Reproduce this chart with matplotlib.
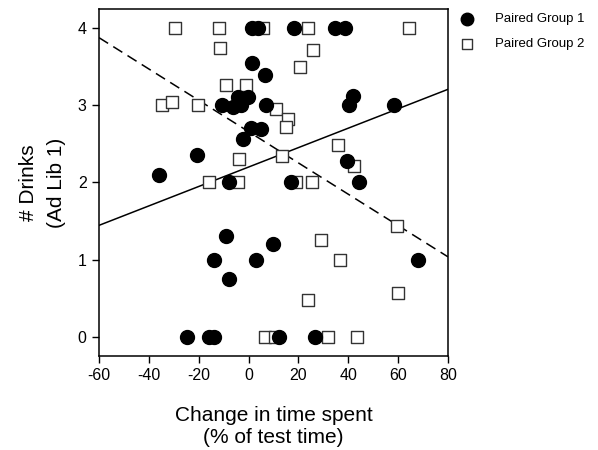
import numpy as np
import matplotlib
matplotlib.use("Agg")
import matplotlib.pyplot as plt

plt.rcParams['font.family'] = ['Liberation Sans', 'DejaVu Sans']
plt.rcParams['axes.unicode_minus'] = False

# Paired Group 1 (filled circles)
g1_x = [1.5, 3.8, 18.2, 34.7, 38.7,
        1.3, 6.5,
        -10.5, -6.4, -4.4, -0.4, -3.1, 6.9, 41.8, 40.4, 58.5,
        0.9, 4.9, -2.4, -20.5, -35.9, 39.5,
        -7.8, 17.0, 44.4,
        -9.1, 10.0, -13.8, 2.9, 67.9, -7.8,
        -24.7, -16.0, -14.0, 12.4, 26.8]
g1_y = [4.0, 4.0, 4.0, 4.0, 4.0,
        3.55, 3.4,
        3.0, 2.98, 3.11, 3.11, 3.0, 3.0, 3.12, 3.0, 3.0,
        2.71, 2.69, 2.57, 2.35, 2.1, 2.28,
        2.0, 2.0, 2.0,
        1.31, 1.2, 1.0, 1.0, 1.0, 0.75,
        0.0, 0.0, 0.0, 0.0, 0.0]

# Paired Group 2 (open squares)
g2_x = [-29.5, -11.8, 5.8, 23.7, 64.4,
        -11.4, 25.9, 20.7,
        -9.0, -1.1,
        -34.8, -30.8, -20.2,
        11.0, 15.8, 15.0,
        35.7, 13.6, -3.8, 42.4,
        -15.8, -4.4, 19.0, 25.3,
        59.7, 29.0, 36.8, 59.8, 23.7,
        6.8, 10.5, 31.8, 43.6]
g2_y = [4.0, 4.0, 4.0, 4.0, 4.0,
        3.75, 3.72, 3.5,
        3.27, 3.27,
        3.0, 3.04, 3.0,
        2.95, 2.82, 2.72,
        2.48, 2.34, 2.3, 2.22,
        2.0, 2.0, 2.0, 2.0,
        1.44, 1.26, 1.0, 0.57, 0.48,
        0.0, 0.0, 0.0, 0.0]

# regression lines (slope, intercept)
fit1 = (0.0126, 2.20)
fit2 = (-0.0203, 2.66)

x_ticks = [-60, -40, -20, 0, 20, 40, 60, 80]
y_ticks = [0, 1, 2, 3, 4]


def main():
    fig = plt.figure(figsize=(5.98, 4.5), dpi=100)
    ax = fig.add_axes([0.1656, 0.209, 0.5834, 0.771])

    ax.scatter(g2_x, g2_y, marker='s', s=72, facecolor='white', edgecolor='#333333',
               linewidth=1.0, zorder=3, label='Paired Group 2')
    ax.scatter(g1_x, g1_y, marker='o', s=100, color='black', zorder=4,
               label='Paired Group 1')

    xs = np.array([-60, 80])
    ax.plot(xs, fit1[0] * xs + fit1[1], color='black', lw=1.1, zorder=2)
    ax.plot(xs, fit2[0] * xs + fit2[1], color='black', lw=1.1, ls=(0, (7, 4)), zorder=2)

    ax.set_xlim(-60, 80)
    ax.set_ylim(-0.25, 4.25)
    ax.set_xticks(x_ticks)
    ax.set_yticks(y_ticks)
    ax.tick_params(direction='out', length=5, width=1, labelsize=11.5, pad=4)
    for sp in ax.spines.values():
        sp.set_linewidth(1.1)

    ax.set_xlabel('Change in time spent\n(% of test time)', fontsize=15, labelpad=16,
                  linespacing=1.2)
    ax.set_ylabel('# Drinks\n(Ad Lib 1)', fontsize=15, labelpad=8, linespacing=1.6)

    handles, labels = ax.get_legend_handles_labels()
    ax.legend(handles[::-1], labels[::-1], loc='upper left',
              bbox_to_anchor=(0.983, 1.022), frameon=False, fontsize=9.5,
              markerscale=0.9, handletextpad=1.1, labelspacing=0.95)

    fig.savefig('out.png', dpi=100)


if __name__ == "__main__":
    main()
